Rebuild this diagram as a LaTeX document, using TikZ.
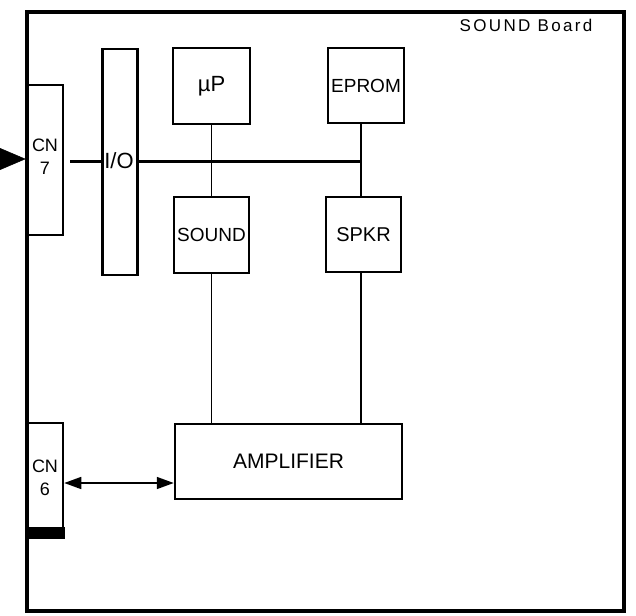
\documentclass[tikz,border=0pt]{standalone}
\usepackage{fontspec}
\setmainfont{Liberation Sans}
\usetikzlibrary{arrows.meta}
\tikzset{
  blk/.style={draw, line width=2.5pt, inner sep=0pt, minimum width=#1},
  blk/.default=75pt,
  lbl/.style={font=\fontsize{19}{21}\selectfont},
  cnl/.style={font=\fontsize{18}{23}\selectfont, align=center, inner sep=0pt},
  wire/.style={line width=1.6pt},
  bus/.style={line width=3pt},
}
\begin{document}
\begin{tikzpicture}[x=1pt,y=-1pt]
\useasboundingbox (0,0) rectangle (636,615);
% board
\node[draw, line width=3.5pt, minimum width=597pt, minimum height=599pt, inner sep=0pt] (board) at (325.5,311.5) {};
\node[font=\fontsize{17}{19}\selectfont\addfontfeature{LetterSpace=14}, anchor=base, inner sep=0pt] (title) at (526,32) {SOUND Board};
% connectors blocks
\node[blk=36pt, minimum height=150pt] (cn7) at (45,160) {};
\node[cnl] (cn7l) at (45,157) {CN\\7};
\node[blk=36pt, minimum height=114pt] (cn6) at (45,480) {};
\node[cnl] (cn6l) at (45,478) {CN\\6};
\fill ([yshift=-1.2pt,xshift=-1.2pt]cn6.south west) rectangle ([yshift=11pt,xshift=1.2pt]cn6.south east);
% I/O bar
\node[blk=35pt, minimum height=226pt] (io) at (120,162) {};
\node[font=\fontsize{22}{24}\selectfont, inner sep=0pt] (iol) at (119,161) {I/O};
% chips
\node[blk=77pt, minimum height=76pt, font=\fontsize{22}{24}\selectfont] (mup) at (211.5,86) {µP};
\node[blk=76pt, minimum height=75pt, lbl] (eprom) at (366,85.5) {EPROM};
\node[blk=75pt, minimum height=76pt, lbl] (sound) at (211.5,235) {SOUND};
\node[blk=75pt, minimum height=75pt, font=\fontsize{20}{22}\selectfont] (spkr) at (363.5,234.5) {SPKR};
\node[blk=227pt, minimum height=75pt, font=\fontsize{21}{23}\selectfont] (amp) at (288.5,461.5) {AMPLIFIER};
% bus
\coordinate (j) at (361,161);
\coordinate (in7) at (0,159);
\coordinate (a6) at (63,483);
\draw[bus, shorten <=6pt] (cn7.east |- j) -- (io.west |- j);
\draw[bus] (io.east |- j) -- (j);
\draw[wire] (mup.south) -- (sound.north);
\draw[wire] (eprom.south -| j) -- (spkr.north -| j);
\draw[wire] (sound.south) -- (sound.south |- amp.north);
\draw[wire] (spkr.south -| j) -- (amp.north -| j);
% incoming arrow to CN7
\draw[line width=0.5pt, -{Triangle[length=26pt,width=22pt]}] (in7) -- (cn7.west |- in7);
% CN6 <-> amplifier
\draw[wire, {Triangle[length=17pt,width=12pt]}-{Triangle[length=17pt,width=12pt]}] (cn6.east |- a6) -- (amp.west |- a6);
\end{tikzpicture}
\end{document}
